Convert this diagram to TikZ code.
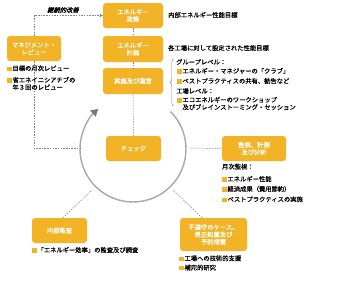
\documentclass[tikz,border=0pt]{standalone}
\usepackage{fontspec}
\setmainfont{Noto Sans CJK JP}[FakeBold=0.5]
\newfontfamily\slantfont[FakeSlant=0.25,FakeBold=1.2]{Noto Sans CJK JP}
\usetikzlibrary{arrows.meta,decorations.pathreplacing,calc}
\definecolor{boxc}{RGB}{242,180,38}
\definecolor{lnc}{RGB}{130,130,130}
\definecolor{arcc}{RGB}{168,168,168}
\definecolor{tipc}{RGB}{120,120,120}
\newcommand{\bsq}{{\color{boxc}\rule[-0.3pt]{4.4pt}{4.4pt}}\hspace{0.9pt}}
\begin{document}
\begin{tikzpicture}[x=1pt,y=-1pt,
  font=\fontsize{6.3}{7.3}\selectfont,
  every node/.style={inner sep=0pt},
  box/.style={fill=boxc, rounded corners=3pt, text=white, align=center, inner sep=0pt},
  lbl/.style={anchor=base west, inner sep=0pt},
  dsh/.style={draw=lnc, line width=0.5pt, dash pattern=on 1.5pt off 1.2pt}]
\fill[white] (0,0) rectangle (357,284);
\useasboundingbox (0,0) rectangle (357,284);

% boxes
\node[box,minimum width=60pt,minimum height=25pt] (pol) at (133,15.5) {エネルギー\\政策};
\node[box,minimum width=60pt,minimum height=26pt] (plan) at (133,49) {エネルギー\\計画};
\node[box,minimum width=60pt,minimum height=26pt] (impl) at (133,81) {実施及び運営};
\node[box,minimum width=54pt,minimum height=25pt] (mgmt) at (34,48.5) {マネジメント・\\レビュー};
\node[box,minimum width=55pt,minimum height=25pt] (chk) at (133.5,148.5) {チェック};
\node[box,minimum width=64pt,minimum height=25pt] (mon) at (254,148.5) {監視、計測\\及び分析};
\node[box,minimum width=55pt,minimum height=25pt] (aud) at (59.5,230.5) {内部監査};
\node[box,minimum width=67pt,minimum height=33pt] (nc) at (213.5,234.5) {不遵守のケース、\\是正処置及び\\予防措置};

% cycle arc
\coordinate (cc) at (133,149);
\draw[arcc, line width=1.4pt, -{Triangle[length=7pt,width=8pt,color=tipc]}]
  ($(cc)+(45:53pt)$) arc[start angle=45, end angle=-229, radius=53pt];

% dashed connectors
\draw[dsh] (pol.south) -- (plan.north);
\draw[dsh] (plan.south) -- (impl.north);
\draw[dsh] (impl.south) -- (chk.north);
\coordinate (cl) at (80,148);
\draw[dsh] (mgmt.south) |- (cl);
\draw[dsh, -{Stealth[length=3.5pt,width=3.5pt]}] (mgmt.north) |- (pol.west);
\node[font=\slantfont\fontsize{6.3}{7}\selectfont] (ci) at (63,10) {継続的改善};
\coordinate (cr) at (190,148);
\draw[dsh] (cr) -- (mon.west);
\coordinate (ca) at (92,190);
\draw[dsh] ($(aud.north)+(3.5,0)$) -- (ca);
\coordinate (cb) at (173,190);
\draw[dsh] ($(nc.north)+(-11.5,0)$) -- (cb);

% brace
\draw[lnc, line width=0.4pt, decorate, decoration={brace, amplitude=3.5pt}] (173.5,106) -- (173.5,59);

% texts right top
\node[lbl] (t1) at (168,17.4) {内部エネルギー性能目標};
\node[lbl] (t2) at (168,50.4) {各工場に対して設定された性能目標};
\node[lbl] (g1) at (176,64.4) {グループレベル：};
\node[lbl] (g2) at (177,73.4) {\bsq エネルギー・マネジャーの「クラブ」};
\node[lbl] (g3) at (177,83.4) {\bsq ベストプラクティスの共有、勧告など};
\node[lbl] (g4) at (176,93.4) {工場レベル：};
\node[lbl] (g5) at (177,102.2) {\bsq エコエネルギーのワークショップ};
\node[lbl] (g6) at (182.3,109.6) {及びブレインストーミング・セッション};

% left texts
\node[lbl] (m1) at (7,70.7) {\bsq 目標の月次レビュー};
\node[lbl] (m2) at (7,82.4) {\bsq 省エネイニシアチブの};
\node[lbl] (m3) at (12.3,89.7) {年３回のレビュー};

% monitoring texts
\node[lbl] (s1) at (222,169) {月次監視：};
\node[lbl] (s2) at (222,181.4) {\bsq エネルギー性能};
\node[lbl] (s3) at (222,191.4) {\bsq 経済成果（費用節約）};
\node[lbl] (s4) at (222,201.7) {\bsq ベストプラクティスの実施};

% audit text
\node[lbl] (a1) at (32,252.4) {\bsq 「エネルギー効率」の監査及び調査};

% non-compliance texts
\node[lbl] (n1) at (179,260.7) {\bsq 工場への技術的支援};
\node[lbl] (n2) at (179,270) {\bsq 補完的研究};
\end{tikzpicture}
\end{document}
